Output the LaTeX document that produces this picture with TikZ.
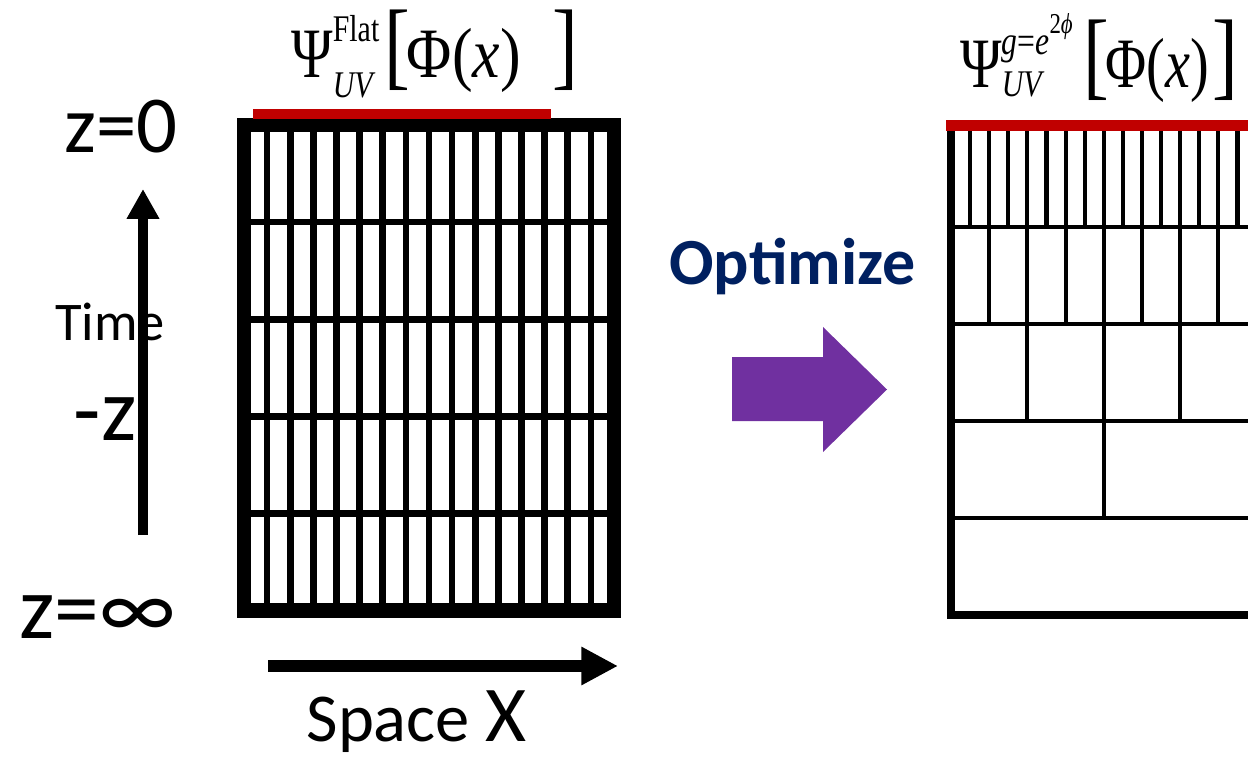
\documentclass[tikz,border=0pt]{standalone}
\usepackage{fontspec}
\setmainfont{Carlito}
\newfontfamily\tms{Liberation Serif}
\usetikzlibrary{arrows.meta}
\definecolor{optnavy}{HTML}{002060}
\definecolor{uvred}{HTML}{C00000}
\definecolor{optpurple}{HTML}{7030A0}
\newcommand{\fsz}[1]{\fontsize{#1}{#1}\selectfont}
\newcommand{\scr}[4]{\ooalign{\raisebox{#1}{#2}\cr\raisebox{-#3}{#4}\cr}}

\begin{document}
\begin{tikzpicture}[x=0.02cm, y=-0.02cm,
    lbl/.style={inner sep=0pt, anchor=base},
    outerline/.style={line width=8pt},
    gridline/.style={line width=3.8pt},
    hypline/.style={line width=2.3pt},
    hypedge/.style={line width=4.7pt},
    uvbar/.style={draw=uvred, line width=5.9pt},
    arrow/.style={-{Triangle[length=17pt, width=17.5pt]}, line width=5.7pt}]
  \useasboundingbox (0,0) rectangle (1248,760);
  \clip (0,0) rectangle (1248,760);

  % flat lattice
  \foreach \i in {1,...,15}
    \draw[gridline] ({244+\i*23.125},125) -- ({244+\i*23.125},610.5);
  \foreach \j in {1,...,4}
    \draw[gridline] (244,{125+\j*97.1}) -- (614,{125+\j*97.1});
  \draw[outerline] (244,125) rectangle (614,610.5);
  \draw[uvbar, line width=5.9pt] (253,114) -- (551,114);

  % optimized lattice
  \foreach \i in {1,...,16}
    \draw[hypline] ({951+\i*19.1},125.3) -- ({951+\i*19.1},226.7);
  \foreach \i in {1,...,8}
    \draw[hypline] ({951+\i*38.2},226.7) -- ({951+\i*38.2},323.7);
  \foreach \i in {1,...,4}
    \draw[hypline] ({951+\i*76.4},323.7) -- ({951+\i*76.4},421);
  \foreach \i in {1,2}
    \draw[hypline] ({951+\i*152.8},421) -- ({951+\i*152.8},518.3);
  \foreach \y in {226.7,323.7,421,518.3}
    \draw[hypline, line width=2.5pt] (951,\y) -- (1260,\y);
  \draw[hypedge] (1260,615.3) -- (951,615.3) -- (951,125.3);
  \draw[uvbar, line width=6.1pt] (946,125.3) -- (1260,125.3);

  % states
  \node[lbl, anchor=base west, font=\tms\fsz{32}] (psiflat) at (291,78)
    {\scalebox{1}[1.26]{Ψ\scr{16.7pt}{\fsz{17}Flat}{8.6pt}{\fsz{17}\itshape UV}\kern3pt{\fsz{44}[}\kern-2pt\scalebox{1.1}[1]{Φ(\textit{x})}\hspace{18pt}{\fsz{44}]}}};
  \node[lbl, anchor=base west, font=\tms\fsz{32}] (psicurved) at (960,88)
    {\scalebox{1}[1.26]{Ψ\scr{15pt}{\fsz{18}\itshape g\upshape=\itshape e\upshape\raisebox{9.5pt}{\fsz{13}2\itshape ϕ}}{4pt}{\fsz{17}\itshape UV}\kern6pt{\fsz{44}[}\kern-2pt Φ(\textit{x})\hspace{2pt}{\fsz{44}]}}};

  % axis labels
  \node[lbl, font=\fsz{46}] (zzero) at (121,153) {z=0};
  \node[lbl, font=\fsz{31}] (timelbl) at (110,340) {Time};
  \node[lbl, font=\fsz{51}] (minusz) at (105,440) {-z};
  \node[lbl, font=\fsz{51}] (zinf) at (97.5,638) {z=∞};
  \node[lbl, font=\fsz{39}] (spacelbl) at (416.5,741) {Space {\fsz{45}X}};
  \node[lbl, font=\bfseries\fsz{37.5}, text=optnavy] (optlbl) at (792.5,285) {Optimize};

  % axes
  \coordinate (tbot) at (143,535);
  \coordinate (ttop) at (143,189);
  \draw[arrow] (tbot) -- (ttop);
  \coordinate (sleft) at (268,666);
  \coordinate (sright) at (618,666);
  \draw[arrow, line width=7.2pt, -{Triangle[length=20.9pt, width=20.5pt]}] (sleft) -- (sright);

  % optimize arrow
  \fill[optpurple] (732,357) -- (823,357) -- (823,327) -- (887,389.5)
    -- (823,452) -- (823,421) -- (732,421) -- cycle;
\end{tikzpicture}
\end{document}
